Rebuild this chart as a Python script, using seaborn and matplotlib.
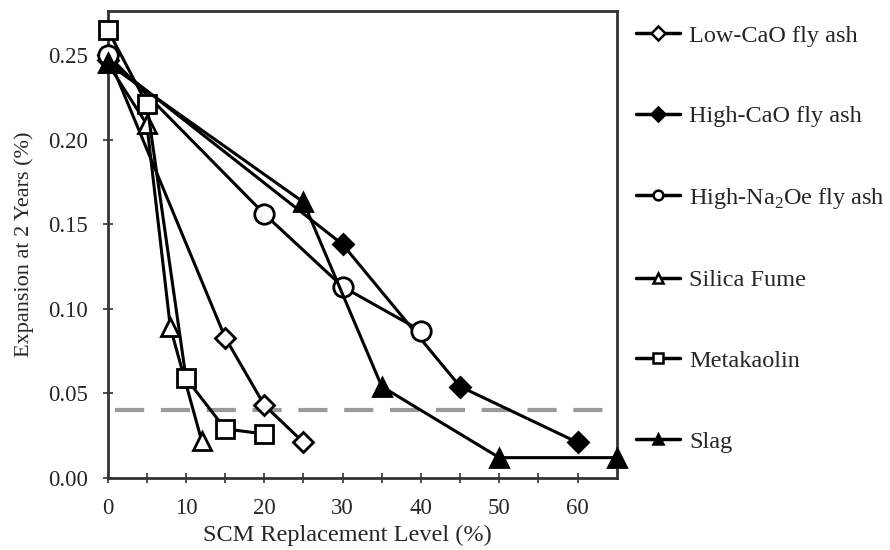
import matplotlib
matplotlib.use("Agg")
import matplotlib.pyplot as plt
from matplotlib.lines import Line2D
import seaborn as sns
import pandas as pd

# SCM replacement level (%) and 2-year expansion (%) for each material
low_cao_x = [0, 15, 20, 25]
low_cao_y = [0.250, 0.083, 0.043, 0.021]

high_cao_x = [0, 30, 45, 60]
high_cao_y = [0.247, 0.138, 0.054, 0.021]

high_na_x = [0, 20, 30, 40]
high_na_y = [0.250, 0.156, 0.113, 0.087]

silica_x = [0, 5, 8, 12]
silica_y = [0.245, 0.209, 0.089, 0.022]

meta_x = [0, 5, 10, 15, 20]
meta_y = [0.265, 0.221, 0.059, 0.029, 0.026]

slag_x = [0, 25, 35, 50, 65]
slag_y = [0.245, 0.163, 0.054, 0.012, 0.012]

limit_expansion = 0.04

labels = ["Low-CaO fly ash", "High-CaO fly ash", r"High-Na$_\mathregular{2}$Oe fly ash",
          "Silica Fume", "Metakaolin", "Slag"]
x_ticks = [0, 10, 20, 30, 40, 50, 60]
y_ticks = [0.00, 0.05, 0.10, 0.15, 0.20, 0.25]

sns.set_theme(style="white")
plt.rcParams["font.family"] = ["Liberation Serif", "DejaVu Serif"]
plt.rcParams["mathtext.fontset"] = "custom"
plt.rcParams["mathtext.rm"] = "Liberation Serif"

fig = plt.figure(figsize=(8.9, 5.5), dpi=100)
ax = fig.add_axes([0.121, 0.131, 0.572, 0.849])

series = [
    (low_cao_x, low_cao_y, "D", "white", 10),
    (high_cao_x, high_cao_y, "D", "black", 10),
    (high_na_x, high_na_y, "o", "white", 14),
    (silica_x, silica_y, "^", "white", 13),
    (meta_x, meta_y, "s", "white", 13),
    (slag_x, slag_y, "^", "black", 13),
]

ax.axhline(limit_expansion, xmin=0.015, xmax=1.0, color="#9a9a9a", lw=3,
           dashes=(7, 4), zorder=1)

handles = []
for (xs, ys, mk, fc, ms), lab in zip(series, labels):
    df = pd.DataFrame({"x": xs, "y": ys})
    sns.lineplot(data=df, x="x", y="y", ax=ax, color="black", lw=2.2,
                 marker=mk, markersize=ms, markerfacecolor=fc,
                 markeredgecolor="black", markeredgewidth=2, zorder=3,
                 clip_on=False)
    handles.append(Line2D([], [], color="black", lw=2.5, marker=mk,
                          markersize=7, markerfacecolor=fc,
                          markeredgecolor="black", markeredgewidth=1.8))

ax.set_xlim(0, 65)
ax.set_ylim(0, 0.276)
ax.set_xticks(x_ticks)
ax.set_xticks([5, 15, 25, 35, 45, 55], minor=True)
ax.set_yticks(y_ticks)
ax.set_yticklabels([f"{v:.2f}" for v in y_ticks])
ax.tick_params(axis="both", which="both", direction="inout", length=7,
               width=1.2, color="#333333", labelsize=16.5, pad=11,
               bottom=True, left=True)
ax.set_xlabel("SCM Replacement Level (%)", fontsize=17.5, labelpad=6)
ax.xaxis.set_label_coords(0.47, -0.1, transform=ax.transAxes)
ax.set_ylabel("Expansion at 2 Years (%)", fontsize=16, labelpad=10)
for s in ax.spines.values():
    s.set_color("#333333")
    s.set_linewidth(2)

fig.legend(handles, labels, loc="upper left", bbox_to_anchor=(0.704, 0.973),
           frameon=False, fontsize=17.5, handlelength=1.8, handletextpad=0.37,
           labelspacing=2.41, borderaxespad=0)

fig.savefig("out.png", dpi=100)
